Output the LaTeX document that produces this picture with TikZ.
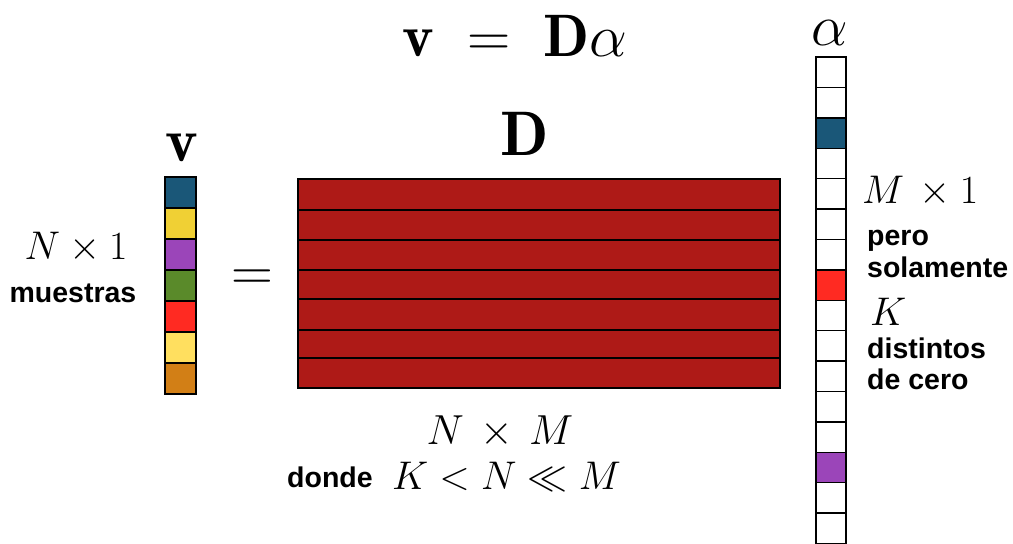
\RequirePackage{fix-cm}
\documentclass[tikz,border=0pt]{standalone}
\usepackage{fontspec}
\newfontfamily\hv{Liberation Sans}
\definecolor{cBlue}{HTML}{1A5778}
\definecolor{cYel}{HTML}{F0D034}
\definecolor{cPur}{HTML}{9B45B9}
\definecolor{cGrn}{HTML}{5A8A2A}
\definecolor{cRed}{HTML}{FF2A22}
\definecolor{cLYel}{HTML}{FFDF5F}
\definecolor{cOra}{HTML}{D27F16}
\definecolor{cMat}{HTML}{AE1A17}
\begin{document}
\begin{tikzpicture}[x=1pt,y=-1pt,
  cell/.style={draw=black,line width=1.6pt},
  acell/.style={draw=black,line width=1.4pt},
  lbl/.style={inner sep=0pt,anchor=base},
  sans/.style={inner sep=0pt,anchor=base west,font=\hv\bfseries\fontsize{28.5}{32}\selectfont}]
\useasboundingbox (0,0) rectangle (1013,544);
% v column
\foreach \c [count=\i from 0] in {cBlue,cYel,cPur,cGrn,cRed,cLYel,cOra}
  \draw[cell,fill=\c] (165,{177+\i*31}) rectangle ++(31,31);
% D matrix
\foreach \a/\b in {179/210,210/240,240/270,270/299,299/330,330/358,358/388}
  \draw[cell,fill=cMat] (298,\a) rectangle (780,\b);
% alpha column
\begin{scope}
\clip (0,0) rectangle (1013,544);
\foreach \i in {0,...,16}{
  \pgfmathsetmacro\fc{\i==2 ? 1 : (\i==7 ? 2 : (\i==13 ? 3 : 0))}
  \ifcase\fc\relax
    \def\col{white}\or\def\col{cBlue}\or\def\col{cRed}\or\def\col{cPur}\fi
  \draw[acell,fill=\col] (816,{57+\i*30.4}) rectangle ++(30,30.4);
}
\end{scope}
% labels
\node[lbl,font=\fontsize{60}{68}\selectfont] (eq) at (515,56) {$\mathbf{v}\;=\;\mathbf{D}\alpha$};
\node[lbl,font=\fontsize{62}{70}\selectfont] (vl) at (182,161) {$\mathbf{v}$};
\node[lbl,font=\fontsize{63}{70}\selectfont] (Dl) at (525,155) {$\mathbf{D}$};
\node[lbl,font=\fontsize{58}{66}\selectfont] (al) at (830,45) {$\alpha$};
\node[inner sep=0pt,font=\fontsize{58}{66}\selectfont] (eqs) at (252,280) {$=$};
\node[lbl,font=\fontsize{40}{48}\selectfont] (n1) at (76,259) {$N\times1$};
\node[lbl,font=\hv\bfseries\fontsize{28.5}{32}\selectfont] (mu) at (73,302) {muestras};
\node[lbl,font=\fontsize{40}{48}\selectfont,anchor=base west] (m1) at (862,203) {$M\,\times1$};
\node[sans] (pe) at (867,245) {pero};
\node[sans] (so) at (867,277) {solamente};
\node[lbl,font=\fontsize{40}{48}\selectfont,anchor=base west] (kk) at (870,325) {$K$};
\node[sans] (di) at (867,358) {distintos};
\node[sans] (dc) at (867,389) {de cero};
\node[lbl,font=\fontsize{42}{50}\selectfont] (nm) at (500,444) {$N\,\times\,M$};
\node[sans] (do) at (287,487) {donde};
\node[lbl,font=\fontsize{40}{48}\selectfont,anchor=base west] (kn) at (392,489) {$K<N\ll M$};
\end{tikzpicture}
\end{document}
